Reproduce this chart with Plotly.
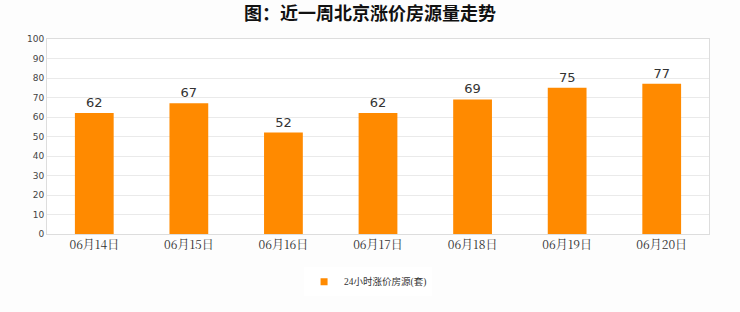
import plotly.graph_objects as go

categories = ["06月14日", "06月15日", "06月16日", "06月17日", "06月18日", "06月19日", "06月20日"]
values = [62, 67, 52, 62, 69, 75, 77]
series_name = "24小时涨价房源(套)"
title = "图：近一周北京涨价房源量走势"

fig = go.Figure()
fig.add_trace(go.Bar(
    x=categories, y=values, name=series_name,
    marker=dict(color="#FF8A00", line=dict(width=0)),
    text=values, textposition="outside",
    textfont=dict(size=13, color="#333333", family="DejaVu Sans"),
    cliponaxis=False,
    showlegend=False,
))
# legend-only entry with a small square marker
fig.add_trace(go.Scatter(
    x=[None], y=[None], mode="markers", name=series_name,
    marker=dict(symbol="square", size=7, color="#FF8A00"),
    showlegend=True,
))

fig.update_layout(
    width=740, height=312,
    margin=dict(l=47, r=31, t=39, b=78),
    paper_bgcolor="#fdfdfd",
    plot_bgcolor="#ffffff",
    bargap=0.59,
    title=dict(text=title, x=0.5, xanchor="center", y=0.955, yanchor="middle",
               font=dict(size=18, color="#111111", family="Noto Sans CJK SC", weight="bold")),
    xaxis=dict(showgrid=False, showline=True, linecolor="#dddddd", mirror=True,
               tickfont=dict(size=12, color="#333333", family="Noto Serif CJK SC, Liberation Serif, serif"),
               ticks=""),
    yaxis=dict(range=[0, 100], dtick=10, showgrid=True, gridcolor="#eaeaea",
               showline=True, linecolor="#dddddd", mirror=True, zeroline=False,
               tickfont=dict(size=9, color="#444444", family="DejaVu Sans"), ticks=""),
    legend=dict(orientation="h", x=0.485, xanchor="center", y=-0.245, yanchor="middle",
                font=dict(size=9.5, color="#333333", family="Liberation Serif, Noto Sans CJK SC"),
                bgcolor="#ffffff", itemwidth=30),
)

fig.write_html("out.html")
